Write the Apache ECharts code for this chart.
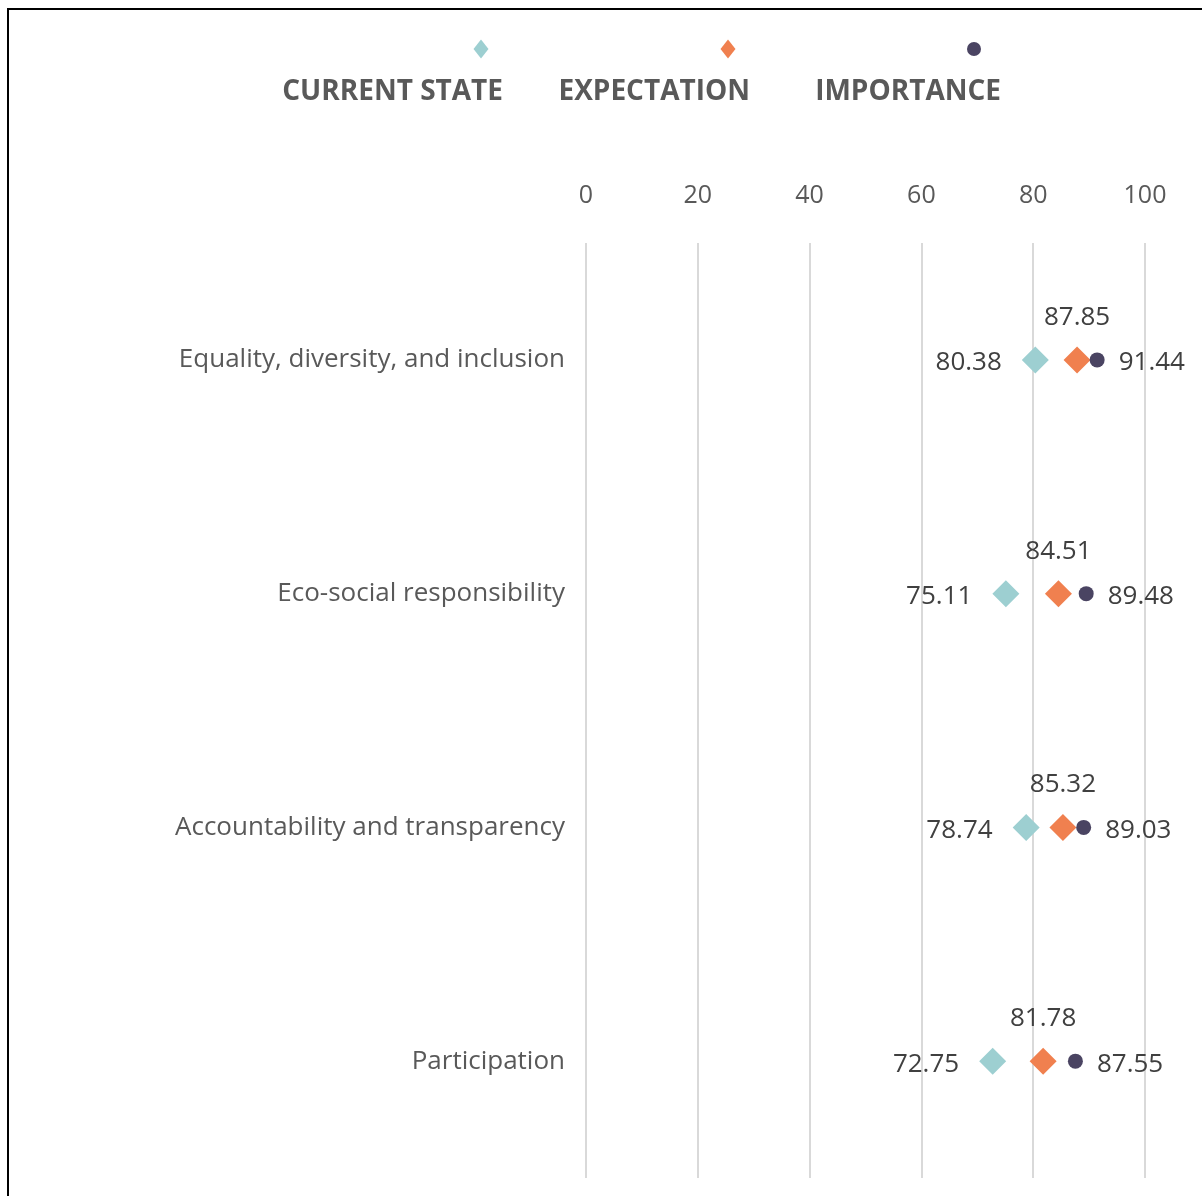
<!DOCTYPE html>
<html>
<head>
<meta charset="utf-8">
<script src="https://cdn.jsdelivr.net/npm/echarts@6/dist/echarts.min.js"></script>
<style>
html,body{margin:0;padding:0;background:#fff;}
#chart{width:1202px;height:1196px;}
</style>
</head>
<body>
<div id="chart"></div>
<script>
const categories = ['Equality, diversity, and inclusion', 'Eco-social responsibility', 'Accountability and transparency', 'Participation'];
const currentState = [80.38, 75.11, 78.74, 72.75];
const expectation = [87.85, 84.51, 85.32, 81.78];
const importance = [91.44, 89.48, 89.03, 87.55];
const xTicks = [0, 20, 40, 60, 80, 100];

const FONT = 'Open Sans';
const toPts = vals => vals.map((v, i) => [v, categories[i]]);

const chart = echarts.init(document.getElementById('chart'));

function iconLegend(name, icon, cx, w, h) {
  return {
    data: [{name: name, icon: icon}],
    padding: 0,
    top: 49 - h / 2,
    left: cx - w / 2,
    itemWidth: w,
    itemHeight: h,
    formatter: () => '',
    textStyle: {fontSize: 1},
    selectedMode: true
  };
}
function textLegend(name, right) {
  return {
    data: [{name: name, icon: 'none'}],
    padding: 0,
    top: 78,
    right: right,
    itemWidth: 0,
    itemHeight: 0,
    textStyle: {fontFamily: FONT, fontSize: 28, fontWeight: 'bold', color: '#595959', padding: [0, 0, 0, -5]},
    selectedMode: true
  };
}

chart.setOption({
  animation: false,
  backgroundColor: '#fff',
  graphic: [{
    type: 'rect',
    shape: {x: 8, y: 9, width: 1400, height: 1400},
    style: {fill: 'none', stroke: '#000', lineWidth: 2},
    silent: true
  }],
  legend: [
    iconLegend('CURRENT STATE', 'diamond', 481, 15, 19),
    iconLegend('EXPECTATION', 'diamond', 728, 15, 19),
    iconLegend('IMPORTANCE', 'circle', 974, 14, 14),
    textLegend('CURRENT STATE', 1202 - 503),
    textLegend('EXPECTATION', 1202 - 750),
    textLegend('IMPORTANCE', 1202 - 1001)
  ],
  grid: {left: 586, right: 57, top: 243, bottom: 18, containLabel: false},
  xAxis: {
    type: 'value',
    position: 'top',
    min: xTicks[0],
    max: xTicks[xTicks.length - 1],
    interval: 20,
    axisLine: {show: false},
    axisTick: {show: false},
    axisLabel: {fontFamily: FONT, fontSize: 25, color: '#595959', margin: 35},
    splitLine: {show: true, lineStyle: {color: '#D9D9D9', width: 2}}
  },
  yAxis: {
    type: 'category',
    data: categories,
    inverse: true,
    axisLine: {show: false},
    axisTick: {show: false},
    axisLabel: {fontFamily: FONT, fontSize: 26, color: '#595959', margin: 21, padding: [8, 0, 0, 0]}
  },
  series: [
    {
      name: 'CURRENT STATE',
      type: 'scatter',
      symbol: 'diamond',
      symbolSize: 27,
      itemStyle: {color: '#9DCFD1', opacity: 1},
      label: {show: true, position: 'left', distance: 20, fontFamily: FONT, fontSize: 26, color: '#404040', offset: [0, 3]},
      data: toPts(currentState),
      z: 2
    },
    {
      name: 'EXPECTATION',
      type: 'scatter',
      symbol: 'diamond',
      symbolSize: 27,
      itemStyle: {color: '#F0804F', opacity: 1},
      label: {show: true, position: 'top', distance: 16, fontFamily: FONT, fontSize: 26, color: '#404040'},
      data: toPts(expectation),
      z: 3
    },
    {
      name: 'IMPORTANCE',
      type: 'scatter',
      symbol: 'circle',
      symbolSize: 15,
      itemStyle: {color: '#4A4462', opacity: 1},
      label: {show: true, position: 'right', distance: 14, fontFamily: FONT, fontSize: 26, color: '#404040', offset: [0, 3]},
      data: toPts(importance),
      z: 4
    }
  ]
});
</script>
</body>
</html>
